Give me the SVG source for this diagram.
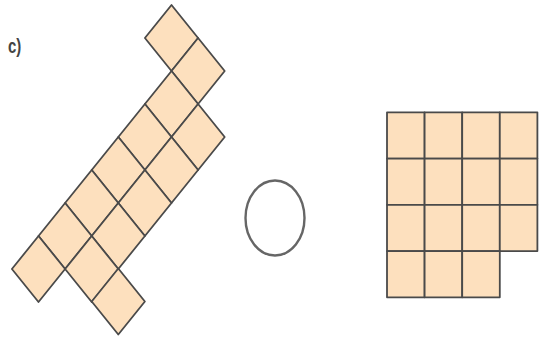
<svg xmlns="http://www.w3.org/2000/svg" xmlns:xlink="http://www.w3.org/1999/xlink" width="546" height="338" viewBox="0 0 546 338">
  <style>
    .tile { fill: #FDE0BE; stroke: #4a4a4a; stroke-width: 1.8; stroke-linejoin: round; }
    .ring { fill: #ffffff; stroke: #666666; stroke-width: 2.4; }
    .label { font-family: "Liberation Sans", Arial, sans-serif; font-weight: bold; fill: #444444; }
  </style>
  <defs>
    <path id="dia" d="M0,0 L26.6,33 L0,66 L-26.6,33 Z"/>
    <rect id="sq" x="0" y="0" width="37.6" height="46.25"/>
  </defs>
  <rect width="546" height="338" fill="#ffffff"/>

  <g id="label-c">
    <text class="label" transform="translate(8,53) scale(1,1.35)" font-size="15">c)</text>
  </g>

  <g id="left-shape">
    <use href="#dia" xlink:href="#dia" class="tile" x="171.5" y="5"/>
    <use href="#dia" xlink:href="#dia" class="tile" x="198.1" y="38"/>
    <use href="#dia" xlink:href="#dia" class="tile" x="171.5" y="71"/>
    <use href="#dia" xlink:href="#dia" class="tile" x="144.9" y="104"/>
    <use href="#dia" xlink:href="#dia" class="tile" x="118.3" y="137"/>
    <use href="#dia" xlink:href="#dia" class="tile" x="91.7" y="170"/>
    <use href="#dia" xlink:href="#dia" class="tile" x="65.1" y="203"/>
    <use href="#dia" xlink:href="#dia" class="tile" x="38.5" y="236"/>
    <use href="#dia" xlink:href="#dia" class="tile" x="198.1" y="104"/>
    <use href="#dia" xlink:href="#dia" class="tile" x="171.5" y="137"/>
    <use href="#dia" xlink:href="#dia" class="tile" x="144.9" y="170"/>
    <use href="#dia" xlink:href="#dia" class="tile" x="118.3" y="203"/>
    <use href="#dia" xlink:href="#dia" class="tile" x="91.7" y="236"/>
    <use href="#dia" xlink:href="#dia" class="tile" x="118.3" y="268.5"/>
  </g>

  <g id="circle">
    <ellipse class="ring" cx="275" cy="218" rx="29.5" ry="37.5"/>
  </g>

  <g id="right-grid">
    <use href="#sq" xlink:href="#sq" class="tile" x="387" y="112.3"/>
    <use href="#sq" xlink:href="#sq" class="tile" x="424.6" y="112.3"/>
    <use href="#sq" xlink:href="#sq" class="tile" x="462.2" y="112.3"/>
    <use href="#sq" xlink:href="#sq" class="tile" x="499.8" y="112.3"/>
    <use href="#sq" xlink:href="#sq" class="tile" x="387" y="158.55"/>
    <use href="#sq" xlink:href="#sq" class="tile" x="424.6" y="158.55"/>
    <use href="#sq" xlink:href="#sq" class="tile" x="462.2" y="158.55"/>
    <use href="#sq" xlink:href="#sq" class="tile" x="499.8" y="158.55"/>
    <use href="#sq" xlink:href="#sq" class="tile" x="387" y="204.8"/>
    <use href="#sq" xlink:href="#sq" class="tile" x="424.6" y="204.8"/>
    <use href="#sq" xlink:href="#sq" class="tile" x="462.2" y="204.8"/>
    <use href="#sq" xlink:href="#sq" class="tile" x="499.8" y="204.8"/>
    <use href="#sq" xlink:href="#sq" class="tile" x="387" y="251.05"/>
    <use href="#sq" xlink:href="#sq" class="tile" x="424.6" y="251.05"/>
    <use href="#sq" xlink:href="#sq" class="tile" x="462.2" y="251.05"/>
  </g>
</svg>
